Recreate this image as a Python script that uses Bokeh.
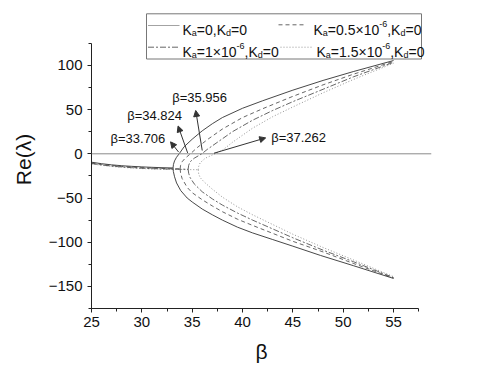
from bokeh.plotting import figure
from bokeh.models import Range1d, Span, Label, Arrow, NormalHead, BoxAnnotation, SingleIntervalTicker
from bokeh.embed import file_html
from bokeh.resources import INLINE

# ---------------- data ----------------
# Ka = 0, Kd = 0 (solid)
ka0_pre_beta = [25, 26, 27, 28, 29, 30, 31, 32, 33, 33.1]
ka0_pre_re = [-9.5, -11.2, -12.5, -13.5, -14.2, -14.8, -15.3, -15.7, -16.0, -16.0]
ka0_up_beta = [33.1, 33.14, 33.25, 33.44, 33.706, 34.2, 35, 36, 37, 38, 40, 42, 45, 48, 51, 55]
ka0_up_re = [-16, -12, -8, -4, 0, 8, 16.5, 26, 34, 41, 51.5, 60, 72, 83, 93, 105.5]
ka0_lo_beta = [33.1, 33.13, 33.25, 33.45, 33.86, 34.5, 35, 36, 37, 38, 39.5, 41, 43, 45, 47.75, 51, 55]
ka0_lo_re = [-16, -20, -26, -33, -41.6, -50, -54.5, -62.5, -69, -75, -83, -89.5, -97, -104.5, -115, -126.5, -141]

# Ka = 0.5e-6 (dashed)
ka05_pre_beta = [25, 26, 27, 28, 29, 30, 31, 32, 33, 33.8]
ka05_pre_re = [-10.5, -12, -13.3, -14.3, -15.1, -15.7, -16.2, -16.6, -16.9, -17.0]
ka05_up_beta = [33.8, 33.85, 34.0, 34.3, 34.824, 35.5, 36.5, 38, 40, 42, 45, 48, 51, 55]
ka05_up_re = [-17, -13, -9, -5, 0, 7, 16, 28, 41, 51, 65, 78, 90, 104.5]
ka05_lo_beta = [33.8, 33.85, 34.0, 34.5, 35, 36, 37, 38, 39.5, 41, 43, 45, 48, 51, 55]
ka05_lo_re = [-17, -22, -28, -38, -44, -52, -59, -65.5, -74, -81, -90, -99, -111, -124, -140.5]

# Ka = 1e-6 (dash-dot)
ka1_pre_beta = [25, 26, 27, 28, 29, 30, 31, 32, 33, 34, 34.6]
ka1_pre_re = [-11, -12.6, -13.9, -14.9, -15.7, -16.3, -16.8, -17.1, -17.3, -17.4, -17.5]
ka1_up_beta = [34.6, 34.65, 34.8, 35.2, 35.956, 36.5, 37.5, 39, 41, 43, 45, 48, 51, 55]
ka1_up_re = [-17.5, -13, -9, -5, 0, 5, 13, 25, 38, 49, 59, 73, 87, 103.5]
ka1_lo_beta = [34.6, 34.65, 34.8, 35.2, 36, 37, 38, 39.5, 41, 43, 45, 48, 51, 55]
ka1_lo_re = [-17.5, -22, -27, -34, -43, -51, -58, -67, -75, -85, -95, -109, -122, -140]

# Ka = 1.5e-6 (dotted)
ka15_pre_beta = [25, 26, 27, 28, 29, 30, 31, 32, 33, 34, 35, 35.6]
ka15_pre_re = [-11.5, -13, -14.3, -15.3, -16.1, -16.7, -17.2, -17.5, -17.7, -17.8, -17.9, -18]
ka15_up_beta = [35.6, 35.65, 35.8, 36.3, 37.262, 38, 39, 40, 41, 43, 45, 48, 51, 55]
ka15_up_re = [-18, -14, -10, -5, 0, 4, 13, 21, 29, 42, 53, 69, 84, 102.5]
ka15_lo_beta = [35.6, 35.65, 35.8, 36.2, 37, 38, 39.5, 41, 43, 45, 48, 51, 55]
ka15_lo_re = [-18, -23, -27, -32, -40, -49, -60, -69, -80, -91, -106, -120, -139]

crit_beta = [33.706, 34.824, 35.956, 37.262]
crit_labels = ["β=33.706", "β=34.824", "β=35.956", "β=37.262"]

x_ticks_interval = 5
y_ticks_interval = 50

# ---------------- figure ----------------
# Bokeh's page template has no body margin, so the figure fills the window from (0, 0)
W, H = 483, 369
ML, MR, MT, MB = 91, 52, 10, 61
X0, X1 = 25.0, 58.77
Y0 = -175.0
Y1 = Y0 + (H - MT - MB) / 0.884

p = figure(width=W, height=H, output_backend="svg", toolbar_location=None,
           x_range=Range1d(X0, X1), y_range=Range1d(Y0, Y1),
           min_border_left=ML, min_border_right=MR, min_border_top=MT, min_border_bottom=MB)
p.outline_line_color = None
p.xgrid.visible = False
p.ygrid.visible = False
p.background_fill_color = "white"
p.border_fill_color = "white"

FW = W - ML - MR
FH = H - MT - MB


def px2x(px):
    # canvas pixel -> data x
    return X0 + (px - ML) * (X1 - X0) / FW


def py2y(py):
    return Y0 + (H - MB - py) * (Y1 - Y0) / FH


FONT = "Liberation Sans"
AX = "#222222"

for ax in (p.xaxis[0], p.yaxis[0]):
    ax.axis_line_color = AX
    ax.major_tick_line_color = AX
    ax.minor_tick_line_color = AX
    ax.major_tick_in = 0
    ax.major_tick_out = 4
    ax.minor_tick_in = 0
    ax.minor_tick_out = 3
    ax.major_label_text_font = FONT
    ax.major_label_text_font_size = "15px"
    ax.major_label_text_color = "#111111"
    ax.axis_label_text_font = FONT
    ax.axis_label_text_font_size = "21px"
    ax.axis_label_text_font_style = "normal"
    ax.axis_label_text_color = "#111111"

p.xaxis.ticker = SingleIntervalTicker(interval=x_ticks_interval, num_minor_ticks=2)
p.yaxis.ticker = SingleIntervalTicker(interval=y_ticks_interval, num_minor_ticks=2)
p.xaxis.bounds = (25, 57.5)
p.yaxis.bounds = (-175, 125)
p.xaxis.axis_label = "β"
p.yaxis.axis_label = "Re(λ)"
p.xaxis.major_label_standoff = 4
p.xaxis.axis_label_standoff = 10
p.yaxis.major_label_standoff = 5
p.yaxis.axis_label_standoff = 11

# zero line
p.add_layout(Span(location=0, dimension="width", line_color="#8a8a8a", line_width=1))

styles = [
    dict(line_color="#333333", line_width=0.9),
    dict(line_color="#555555", line_width=0.9, line_dash="4 3"),
    dict(line_color="#555555", line_width=0.9, line_dash="6 2 2 2"),
    dict(line_color="#888888", line_width=0.9, line_dash="1 2"),
]
series = [
    (ka0_pre_beta, ka0_pre_re, ka0_up_beta, ka0_up_re, ka0_lo_beta, ka0_lo_re),
    (ka05_pre_beta, ka05_pre_re, ka05_up_beta, ka05_up_re, ka05_lo_beta, ka05_lo_re),
    (ka1_pre_beta, ka1_pre_re, ka1_up_beta, ka1_up_re, ka1_lo_beta, ka1_lo_re),
    (ka15_pre_beta, ka15_pre_re, ka15_up_beta, ka15_up_re, ka15_lo_beta, ka15_lo_re),
]
# draw dotted first, solid last
for s, st in reversed(list(zip(series, styles))):
    pb, pr, ub, ur, lb, lr = s
    p.line(pb, pr, **st)
    p.line(ub, ur, **st)
    p.line(lb, lr, **st)

# ---------------- annotations ----------------
ann_pos = [(110, 137.7), (126.7, 115.0), (171.7, 97.0), (270.7, 136.7)]
arrow_tail = [(33.65, 2.0), (34.55, 1.0), (36.0, 3.7), (37.17, 0.7)]
arrow_head = [(32.85, 13.5), (33.6, 31.5), (35.35, 49.0), (42.3, 18.0)]
for lbl, (tx, ty) in zip(crit_labels, ann_pos):
    p.add_layout(Label(x=px2x(tx), y=py2y(ty), text=lbl, text_font=FONT, text_font_size="13px",
                       text_baseline="middle", text_align="left", text_color="#111111"))
for (xs, ys), (xe, ye) in zip(arrow_tail, arrow_head):
    p.add_layout(Arrow(x_start=xs, y_start=ys, x_end=xe, y_end=ye, line_color="#333333", line_width=1,
                       end=NormalHead(size=6, fill_color="#333333", line_color="#333333")))

# ---------------- legend (manual, with sub/superscripts) ----------------
CW = {'K': 667, 'a': 556, 'd': 556, '=': 584, '.': 278, ',': 278, '×': 584, '-': 333}
for c in "0123456789":
    CW[c] = 556


def tw(s, size):
    return sum(CW.get(c, 556) for c in s) * size / 1000.0


def legend_text(x0, base, ka):
    main, small = 14, 9
    if ka is None:
        pieces = [("K", 0), ("a", 1), ("=0,K", 0), ("d", 1), ("=0", 0)]
    else:
        pieces = [("K", 0), ("a", 1), ("=" + ka + "×10", 0), ("-6", 2), (",K", 0), ("d", 1), ("=0", 0)]
    x = x0
    for txt, kind in pieces:
        size = main if kind == 0 else small
        dy = 0 if kind == 0 else (3 if kind == 1 else -6)
        p.add_layout(Label(x=px2x(x), y=py2y(base + dy), text=txt, text_font=FONT,
                           text_font_size=f"{size}px", text_baseline="alphabetic",
                           text_align="left", text_color="#111111"))
        x += tw(txt, size)


leg_left, leg_right, leg_top, leg_bottom = 146, 421, 13.3, 58.5
p.add_layout(BoxAnnotation(left=px2x(leg_left), right=px2x(leg_right), top=py2y(leg_top),
                           bottom=py2y(leg_bottom), fill_alpha=0, line_color="#777777",
                           line_width=1, line_alpha=1))
legend_entries = [
    (147.5, 179, 25.0, 182, 29.3, None, 0),
    (278, 306, 24.3, 313, 29.3, "0.5", 1),
    (147.5, 179, 46.7, 182, 51.7, "1", 2),
    (280, 312, 46.7, 316, 51.7, "1.5", 3),
]
for sx0, sx1, sy, tx, tb, ka, si in legend_entries:
    st = dict(styles[si])
    if si == 0:
        st["line_color"] = "#999999"
    p.line([px2x(sx0), px2x(sx1)], [py2y(sy), py2y(sy)], **st)
    legend_text(tx, tb, ka)

open("out.html", "w").write(file_html(p, INLINE))
